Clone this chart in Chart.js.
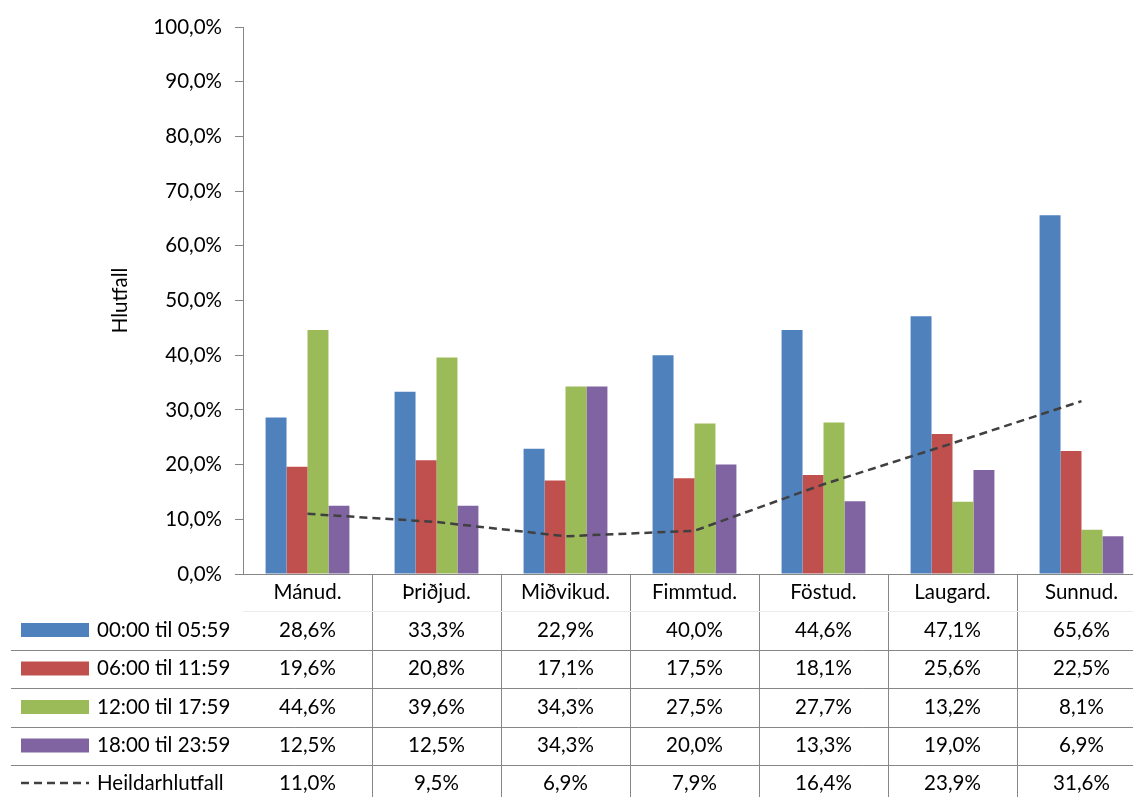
<!DOCTYPE html>
<html>
<head>
<meta charset="utf-8">
<script src="https://cdn.jsdelivr.net/npm/chart.js@4"></script>
<style>
  html, body { margin: 0; padding: 0; background: #fff; overflow: hidden; }
  #wrap { width: 1150px; height: 797px; }
</style>
</head>
<body>
<div id="wrap"><canvas id="chart" width="1150" height="797"></canvas></div>
<script>
// days of the week
var days = ["Mánud.", "Þriðjud.", "Miðvikud.", "Fimmtud.", "Föstud.", "Laugard.", "Sunnud."];

// share per time of day, in percent
var night = [28.6, 33.3, 22.9, 40.0, 44.6, 47.1, 65.6];
var morning = [19.6, 20.8, 17.1, 17.5, 18.1, 25.6, 22.5];
var afternoon = [44.6, 39.6, 34.3, 27.5, 27.7, 13.2, 8.1];
var evening = [12.5, 12.5, 34.3, 20.0, 13.3, 19.0, 6.9];
var total = [11.0, 9.5, 6.9, 7.9, 16.4, 23.9, 31.6];

var seriesNames = ["00:00 til 05:59", "06:00 til 11:59", "12:00 til 17:59", "18:00 til 23:59", "Heildarhlutfall"];
var yTicks = [0, 10, 20, 30, 40, 50, 60, 70, 80, 90, 100];

var FONT = "Lato, 'Open Sans', sans-serif";
var FSIZE = 20.5;
var colors = ["#4F81BD", "#C0504D", "#9BBB59", "#8064A2"];
var lineColor = "#404040";
var gridGray = "#868686";

function pct(v) {
    return v.toFixed(1).replace(".", ",") + "%";
}

// draws the data table under the plot, lined up with the x scale
var tablePlugin = {
    id: "dataTable",
    afterDraw: function(chart) {
        var ctx = chart.ctx;
        var x = chart.scales.x;
        var top = chart.chartArea.bottom;
        var half = (x.getPixelForValue(1) - x.getPixelForValue(0)) / 2;
        var rightEdge = x.getPixelForValue(days.length - 1) + half;
        var rowSeps = [611, 649.5, 688, 726.5, 765];
        var rowMid = [630, 668.5, 707, 745.5, 783];

        ctx.save();
        ctx.strokeStyle = gridGray;
        ctx.lineWidth = 1;

        // vertical dividers
        for (var i = 0; i < days.length; i++) {
            var bx = Math.round(x.getPixelForValue(i) + half) + 0.5;
            ctx.beginPath();
            ctx.moveTo(bx, top);
            ctx.lineTo(bx, 797);
            ctx.stroke();
        }
        // faint line under the header
        ctx.strokeStyle = "#ececec";
        ctx.beginPath();
        ctx.moveTo(x.left, rowSeps[0] + 0.5);
        ctx.lineTo(rightEdge, rowSeps[0] + 0.5);
        ctx.stroke();
        // row separators
        ctx.strokeStyle = gridGray;
        for (var r = 1; r < rowSeps.length; r++) {
            var sy = Math.round(rowSeps[r]) + 0.5;
            ctx.beginPath();
            ctx.moveTo(11, sy);
            ctx.lineTo(rightEdge, sy);
            ctx.stroke();
        }

        ctx.fillStyle = "#000";
        ctx.font = FSIZE + "px " + FONT;
        ctx.textAlign = "center";
        ctx.textBaseline = "middle";
        // header
        days.forEach(function(d, i) {
            ctx.fillText(d, x.getPixelForValue(i), 592);
        });

        // body rows
        var rows = [night, morning, afternoon, evening, total];
        rows.forEach(function(vals, r) {
            var y = rowMid[r];
            if (r < 4) {
                ctx.fillStyle = colors[r];
                ctx.fillRect(21, y - 7, 68, 14);
            } else {
                ctx.strokeStyle = lineColor;
                ctx.lineWidth = 2.5;
                ctx.setLineDash([8, 5]);
                ctx.beginPath();
                ctx.moveTo(21, y);
                ctx.lineTo(89, y);
                ctx.stroke();
                ctx.setLineDash([]);
            }
            ctx.fillStyle = "#000";
            ctx.textAlign = "left";
            ctx.fillText(seriesNames[r], 97, y);
            ctx.textAlign = "center";
            vals.forEach(function(v, i) {
                ctx.fillText(pct(v), x.getPixelForValue(i), y);
            });
        });
        ctx.restore();
    }
};

var barSets = [night, morning, afternoon, evening].map(function(vals, i) {
    return {
        type: "bar",
        label: seriesNames[i],
        data: vals,
        backgroundColor: colors[i],
        borderWidth: 0,
        categoryPercentage: 0.65,
        barPercentage: 1.0,
        order: 1
    };
});

var lineSet = {
    type: "line",
    label: seriesNames[4],
    data: total,
    borderColor: lineColor,
    borderWidth: 2.5,
    borderDash: [8, 5],
    pointRadius: 0,
    tension: 0,
    fill: false,
    order: 0
};

var ctx = document.getElementById("chart").getContext("2d");
var chart = new Chart(ctx, {
    type: "bar",
    data: {
        labels: days,
        datasets: barSets.concat([lineSet])
    },
    plugins: [tablePlugin],
    options: {
        responsive: false,
        animation: false,
        layout: { padding: { left: 0, top: 27, right: 4, bottom: 223 } },
        plugins: {
            legend: { display: false },
            tooltip: { enabled: false }
        },
        scales: {
            x: {
                ticks: { display: false },
                grid: { display: false, drawTicks: false },
                border: { display: true, color: gridGray, width: 1 },
                afterFit: function(scale) { scale.height = 0; }
            },
            y: {
                min: 0,
                max: 100,
                afterBuildTicks: function(scale) {
                    scale.ticks = yTicks.map(function(v) { return { value: v }; });
                },
                afterFit: function(scale) { scale.width = 243; },
                ticks: {
                    color: "#000",
                    padding: 13,
                    font: { family: FONT, size: FSIZE },
                    callback: function(v) { return pct(v); }
                },
                grid: {
                    drawOnChartArea: false,
                    drawTicks: true,
                    tickLength: 8,
                    color: gridGray
                },
                border: { display: true, color: gridGray, width: 1 },
                title: {
                    display: true,
                    text: "Hlutfall",
                    color: "#000",
                    font: { family: FONT, size: FSIZE },
                    padding: { top: 108, bottom: 0 }
                }
            }
        }
    }
});
</script>
</body>
</html>
